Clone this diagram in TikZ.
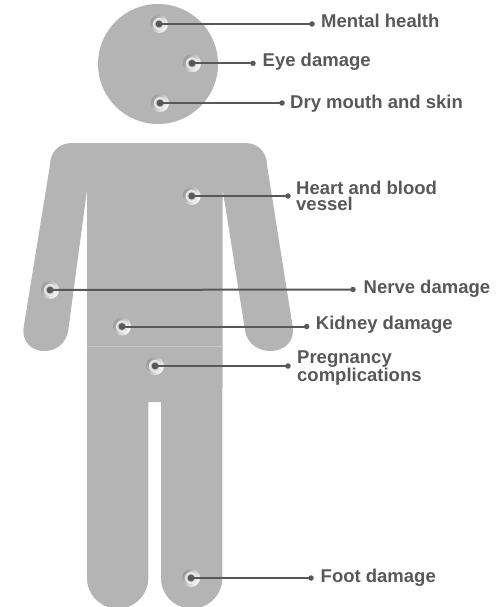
\documentclass[tikz,border=0pt]{standalone}
\usepackage{fontspec}
\setmainfont{Liberation Sans}
\usetikzlibrary{positioning,calc}

\definecolor{bodygray}{HTML}{B4B4B4}
\definecolor{hipgray}{HTML}{C6C6C6}
\definecolor{inkgray}{HTML}{585858}

\begin{document}
\begin{tikzpicture}[x=1pt,y=-1pt]
  \useasboundingbox (0,0) rectangle (498,607);
  \fill[bodygray] (158,64) circle (60);
  \fill[bodygray]
  (87,190) -- (68.3,330) .. controls (64,360) and (19.4,357) .. (23.7,327)
  -- (50,165) .. controls (50,152) and (59,143) .. (72,143)
  -- (245,143) .. controls (258,143) and (267,152) .. (267,165)
  -- (292.7,327) .. controls (297,357) and (249.3,360) .. (245,330)
  -- (222.7,190) -- (222.3,578)
  .. controls (222.3,594.9) and (208.6,608.6) .. (191.6,608.6)
  .. controls (174.7,608.6) and (161,594.9) .. (161,578)
  -- (161,402) -- (148.3,402) -- (148.3,578)
  .. controls (148.3,594.9) and (134.6,608.6) .. (117.6,608.6)
  .. controls (100.7,608.6) and (87,594.9) .. (87,578) -- cycle;
  \draw[hipgray,line width=0.8pt] (87,346) -- (222.5,346);

  \begin{scope}[
    every node/.style={
      circle,
      inner sep=0pt,
      minimum size=18pt,
      left color=gray!80,
      right color=white,
      shading angle=60,
      path picture={
        \fill[white!85!gray] (path picture bounding box.center) circle (6pt);
        \fill[gray!40] (path picture bounding box.center) circle (4.6pt);
        \fill[inkgray] (path picture bounding box.center) circle (3.4pt);
      },
    },
    ]
    \node (mental-spot) at (159,24)    {};
    \node (eye-spot)    at (192,63.3)  {};
    \node (mouth-spot)  at (160,103)   {};
    \node (heart-spot)  at (191.7,196) {};
    \node (nerve-spot)  at (50,290)    {};
    \node (kidney-spot) at (122,326.5) {};
    \node (preg-spot)   at (155,366)   {};
    \node (foot-spot)   at (191,578)   {};
  \end{scope}

  \begin{scope}[
    every node/.style={circle,fill=inkgray,inner sep=0pt,minimum size=5.5pt},
    ]
    \node (mental-end) at (312,24)    {};
    \node (eye-end)    at (253,63.3)  {};
    \node (mouth-end)  at (282,103)   {};
    \node (heart-end)  at (288,196)   {};
    \node (nerve-end)  at (353,289.5) {};
    \node (kidney-end) at (306.7,326.5) {};
    \node (preg-end)   at (288,366)   {};
    \node (foot-end)   at (311,578)   {};
  \end{scope}

  \begin{scope}[
    every path/.style={draw=inkgray,line width=2pt},
    ]
    \path
    (mental-spot.center) edge (mental-end.center)
    (eye-spot.center) edge (eye-end.center)
    (mouth-spot.center) edge (mouth-end.center)
    (heart-spot.center) edge (heart-end.center)
    (nerve-spot.center) edge (nerve-end.center)
    (kidney-spot.center) edge (kidney-end.center)
    (preg-spot.center) edge (preg-end.center)
    (foot-spot.center) edge (foot-end.center);
  \end{scope}

  \begin{scope}[
    every node/.style={
      anchor=base west,
      align=left,
      inner sep=0pt,
      text=inkgray,
      font=\bfseries\fontsize{18.5}{16.6}\selectfont,
    },
    ]
    \node (mental-text) at ($(mental-end)+(9,3.5)$) {Mental health};
    \node (eye-text)    at ($(eye-end)+(9.5,3)$)    {Eye damage};
    \node (mouth-text)  at ($(mouth-end)+(8,5.5)$)  {Dry mouth and skin};
    \node (heart-text)  at ($(heart-end)+(8,14.8)$) {Heart and blood\\vessel};
    \node (nerve-text)  at ($(nerve-end)+(10.5,4)$) {Nerve damage};
    \node (kidney-text) at ($(kidney-end)+(9,3)$)   {Kidney damage};
    \node (preg-text)   at ($(preg-end)+(9,15.6)$)  {Pregnancy\\complications};
    \node (foot-text)   at ($(foot-end)+(9.5,4.5)$) {Foot damage};
  \end{scope}
\end{tikzpicture}
\end{document}
